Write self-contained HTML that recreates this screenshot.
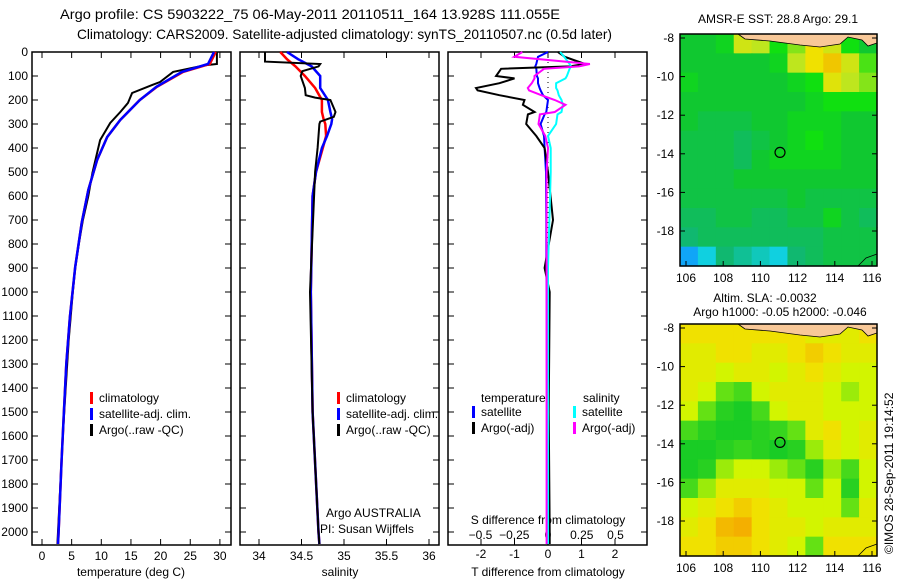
<!DOCTYPE html>
<html><head><meta charset="utf-8"><style>
body{margin:0;background:#fff;width:900px;height:580px;overflow:hidden}
svg text{font-family:"Liberation Sans",sans-serif;font-size:12px;fill:#000}
</style></head><body>
<svg id="c" width="900" height="580" xmlns="http://www.w3.org/2000/svg">
<text x="60" y="19" textLength="500" lengthAdjust="spacingAndGlyphs" style="font-size:14px">Argo profile: CS 5903222_75 06-May-2011 20110511_164 13.928S 111.055E</text>
<text x="77" y="39" textLength="535" lengthAdjust="spacingAndGlyphs" style="font-size:14px">Climatology: CARS2009. Satellite-adjusted climatology: synTS_20110507.nc (0.5d later)</text>
<text x="778" y="23" text-anchor="middle">AMSR-E SST: 28.8 Argo: 29.1</text>
<text x="765" y="302" text-anchor="middle">Altim. SLA: -0.0032</text>
<text x="780" y="316" text-anchor="middle">Argo h1000: -0.05 h2000: -0.046</text>
<text transform="translate(893,554) rotate(-90)">©IMOS 28-Sep-2011 19:14:52</text>
<g id="g"></g>
</svg>
<script>
// depth levels and profile values
const depT=[0,50,55,83,125,137,171,212,250,296,367,504,600,700,800,900,1000,1200,1400,1600,1800,2000,2050];
const tempArgo=[29.5,29.5,27.5,22.1,19.9,18.6,15.2,14.5,13.2,11.5,9.8,8.5,7.8,6.9,6.2,5.6,5.2,4.5,4.0,3.5,3.1,2.7,2.6];
const depC=[0,50,83,145,200,283,354,450,575,712,896,1104,1300,1500,1700,2000,2050];
const tempClim=[29.3,28.3,23.8,19.4,16.5,13.2,11,9.3,7.8,6.7,5.6,4.7,4.1,3.7,3.3,2.8,2.7];
const tempSat=[29.0,28.0,23.6,19.3,16.5,13.2,11,9.3,7.8,6.7,5.6,4.7,4.1,3.7,3.3,2.8,2.7];
const depS=[0,40,50,60,80,100,150,180,190,200,250,270,290,300,400,500,1000,1500,2000,2050];
const salArgo=[34.07,34.07,34.72,34.70,34.51,34.49,34.54,34.55,34.66,34.84,34.90,34.88,34.72,34.71,34.69,34.66,34.60,34.63,34.70,34.71];
const depS2=[0,30,60,100,150,200,250,280,300,350,400,500,600,800,1000,1500,2000,2050];
const salClim=[34.25,34.33,34.43,34.54,34.66,34.74,34.74,34.76,34.78,34.79,34.75,34.67,34.63,34.62,34.61,34.63,34.70,34.71];
const salSat=[34.33,34.46,34.62,34.72,34.72,34.81,34.84,34.86,34.85,34.80,34.74,34.67,34.63,34.62,34.61,34.63,34.70,34.71];
const depD=[0,20,50,60,70,100,110,130,150,160,180,200,220,250,260,300,350,400,500,700,900,1000,1500,2000,2050];
const dTsat=[0,-0.3,-0.35,-0.38,-0.35,-0.33,-0.3,-0.3,-0.25,-0.22,-0.15,0,-0.02,-0.05,-0.1,-0.22,-0.12,-0.1,-0.06,-0.05,-0.05,-0.04,-0.03,-0.03,-0.03];
const dTargo=[0.3,0.5,1.1,0.65,-1.4,-1.55,-1.0,-1.45,-2.15,-2.1,-1.45,-0.7,-0.75,-0.4,-0.6,-0.65,-0.35,-0.1,0.0,0.15,-0.1,0.05,0.02,0.05,0.05];
const dSsat=[0.09,0.12,0.16,0.17,0.16,0.14,0.13,0.06,0.06,0.07,0.08,0.1,0.11,0.1,0.07,0.06,0.0,0.02,0.02,0.01,0.0,0.0,0.0,0.0,0.0];
const dSargo=[-0.19,-0.25,0.31,0.23,-0.03,-0.1,-0.1,-0.12,-0.15,-0.14,-0.05,0.05,0.13,0.05,-0.06,-0.07,-0.02,0.0,-0.01,-0.01,-0.01,-0.01,-0.01,-0.01,-0.01];
const depthTicks=[0,100,200,300,400,500,600,700,800,900,1000,1100,1200,1300,1400,1500,1600,1700,1800,1900,2000];
const tTicks=[0,5,10,15,20,25,30];
const sTicks=[34,34.5,35,35.5,36];
const sTickLabels=["34","34.5","35","35.5","36"];
const dTTicks=[-2,-1,0,1,2];
const dSTicks=[-0.5,-0.25,0,0.25,0.5];
const lonTicks=[106,108,110,112,114,116];
const latTicks=[-8,-10,-12,-14,-16,-18];
// map grids (rows lat -8..-20, cols lon 106..117)
const sstGrid=[
[0.5,0.5,0.55,0.8,0.75,0.6,0.7,0.9,0.8,0.6,0.5],
[0.5,0.5,0.5,0.5,0.5,0.55,0.75,0.9,0.95,0.8,0.65],
[0.55,0.5,0.5,0.5,0.5,0.5,0.55,0.6,0.85,0.75,0.7],
[0.5,0.5,0.5,0.5,0.5,0.5,0.5,0.55,0.6,0.6,0.6],
[0.5,0.45,0.45,0.45,0.5,0.5,0.55,0.55,0.55,0.5,0.5],
[0.45,0.45,0.45,0.4,0.45,0.5,0.55,0.6,0.55,0.5,0.5],
[0.45,0.45,0.45,0.4,0.5,0.55,0.55,0.55,0.55,0.5,0.5],
[0.45,0.45,0.45,0.5,0.5,0.5,0.5,0.5,0.5,0.5,0.5],
[0.45,0.45,0.45,0.45,0.45,0.45,0.5,0.45,0.45,0.45,0.45],
[0.4,0.4,0.45,0.45,0.4,0.4,0.45,0.45,0.55,0.45,0.4],
[0.35,0.4,0.4,0.4,0.4,0.4,0.4,0.4,0.45,0.45,0.45],
[0.05,0.2,0.35,0.3,0.25,0.2,0.35,0.4,0.45,0.45,0.45]];
const slaGrid=[
[0.7,0.7,0.7,0.7,0.7,0.7,0.7,0.6,0.6,0.6,0.7],
[0.6,0.6,0.7,0.7,0.6,0.6,0.7,0.8,0.7,0.6,0.6],
[0.6,0.6,0.5,0.6,0.6,0.5,0.6,0.7,0.6,0.5,0.5],
[0.6,0.5,0.3,0.2,0.5,0.6,0.6,0.6,0.5,0.4,0.5],
[0.5,0.3,0.1,0.05,0.2,0.5,0.6,0.6,0.5,0.5,0.5],
[0.2,0.1,0.05,0.05,0.1,0.15,0.3,0.6,0.7,0.5,0.6],
[0.05,0.05,0.1,0.15,0.1,0.05,0.1,0.4,0.6,0.5,0.6],
[0.05,0.1,0.4,0.5,0.5,0.4,0.3,0.1,0.4,0.2,0.5],
[0.2,0.4,0.6,0.6,0.6,0.5,0.5,0.3,0.5,0.1,0.5],
[0.5,0.6,0.7,0.8,0.7,0.6,0.5,0.5,0.5,0.3,0.6],
[0.6,0.7,0.9,0.95,0.7,0.6,0.6,0.5,0.6,0.6,0.6],
[0.7,0.7,0.8,0.8,0.7,0.6,0.5,0.3,0.7,0.7,0.7]];

const NS="http://www.w3.org/2000/svg";
const G=document.getElementById('g');
function el(t,a,p){const e=document.createElementNS(NS,t);for(const k in a)e.setAttribute(k,a[k]);(p||G).appendChild(e);return e;}
function txt(x,y,s,anchor,p){const e=el('text',{x:x,y:y,'text-anchor':anchor||'start'},p);e.textContent=s;return e;}
const yD=d=>52+d*0.24;
const P1={x0:32,x1:231}, P2={x0:240,x1:439}, P3={x0:448,x1:647};
const xT=v=>42+v*5.93, xS=v=>259+(v-34)*85, xDT=v=>548+v*33.5, xDS=v=>548+v*135;

function frame(P,name){
  const r=el('rect',{x:P.x0,y:52,width:P.x1-P.x0,height:493,fill:'none',stroke:'#000','stroke-width':1.5});
  
  
  depthTicks.forEach(d=>{el('line',{x1:P.x0,x2:P.x0+6,y1:yD(d),y2:yD(d),stroke:'#000'});el('line',{x1:P.x1-6,x2:P.x1,y1:yD(d),y2:yD(d),stroke:'#000'});});
}
function xticks(P,vals,fx,labels,ly){
  vals.forEach((v,i)=>{const x=fx(v);el('line',{x1:x,x2:x,y1:52,y2:58,stroke:'#000'});el('line',{x1:x,x2:x,y1:539,y2:545,stroke:'#000'});
    if(labels){const t=txt(x,ly,labels[i],'middle');}});
}
function line(xs,ds,fx,col,name,w){
  const pts=xs.map((v,i)=>fx(v).toFixed(1)+','+yD(ds[i]).toFixed(1)).join(' ');
  const p=el('polyline',{points:pts,fill:'none',stroke:col,'stroke-width':w||2.5});
  
  
}
function legend(x,y,col,label){
  const r=el('rect',{x:x,y:y-10,width:3,height:12,fill:col});
  
  
  const t=txt(x+9,y,label);
  
  
}
// panel 1
frame(P1,'temperature-panel');
depthTicks.forEach(d=>{const t=txt(28,yD(d)+4,String(d),'end');});
xticks(P1,tTicks,xT,tTicks.map(String),560);
{const t=txt(131,576,'temperature (deg C)','middle');}
line(tempArgo,depT,xT,'#000','temp-argo-line',2);
line(tempClim,depC,xT,'#f00','temp-climatology-line');
line(tempSat,depC,xT,'#00f','temp-satellite-line');
legend(90,402,'#f00','climatology');legend(90,418,'#00f','satellite-adj. clim.');legend(90,434,'#000','Argo(..raw -QC)');
// panel 2
frame(P2,'salinity-panel');
xticks(P2,sTicks,xS,sTickLabels,560);
{const t=txt(340,576,'salinity','middle');}
line(salClim,depS2,xS,'#f00','sal-climatology-line');
line(salSat,depS2,xS,'#00f','sal-satellite-line');
line(salArgo,depS,xS,'#000','sal-argo-line',2);
legend(337,402,'#f00','climatology');legend(337,418,'#00f','satellite-adj. clim.');legend(337,434,'#000','Argo(..raw -QC)');
{const t=txt(326,517,'Argo AUSTRALIA');
 const u=txt(320,533,'PI: Susan Wijffels');}
// panel 3
frame(P3,'difference-panel');
xticks(P3,dTTicks,xDT,dTTicks.map(String),558);
dSTicks.forEach(v=>{const t=txt(xDS(v),539,String(v).replace('-','−'),'middle');});
{const t=txt(548,524,'S difference from climatology','middle');
 const u=txt(548,576,'T difference from climatology','middle');}
el('line',{x1:548,x2:548,y1:52,y2:545,stroke:'#000','stroke-dasharray':'1,4'});
line(dTsat,depD,xDT,'#00f','dT-satellite-line',2);
line(dTargo,depD,xDT,'#000','dT-argo-line',2);
line(dSsat,depD,xDS,'#0ff','dS-satellite-line',2);
line(dSargo,depD,xDS,'#f0f','dS-argo-line',2);
{const t=txt(481,402,'temperature');
 const u=txt(583,402,'salinity');}
legend(472,416,'#00f','satellite');legend(472,432,'#000','Argo(-adj)');
legend(573,416,'#0ff','satellite');legend(573,432,'#f0f','Argo(-adj)');

// maps
function lerp(a,b,t){return Math.round(a+(b-a)*t);}
function cmap(stops,v){for(let i=1;i<stops.length;i++){if(v<=stops[i][0]){const s=stops[i-1],e=stops[i],t=(v-s[0])/(e[0]-s[0]);return 'rgb('+lerp(s[1],e[1],t)+','+lerp(s[2],e[2],t)+','+lerp(s[3],e[3],t)+')';}}const l=stops[stops.length-1];return 'rgb('+l[1]+','+l[2]+','+l[3]+')';}
const sstStops=[[0,16,150,255],[0.2,16,208,224],[0.35,16,184,112],[0.5,16,200,48],[0.6,16,224,16],[0.75,190,230,30],[0.9,240,225,0],[1,240,170,0]];
const slaStops=[[0,10,200,40],[0.3,100,225,20],[0.5,210,245,0],[0.7,240,225,0],[1,245,165,0]];
function map(y0,y1,grid,stops,name){
  const x0=680,x1=877,lon=v=>686+(v-106)*18.6,lat=v=>y0+4+(-8-v)*19.3;
  const g=el('g',{});
  
  
  const cw=(x1-x0)/grid[0].length,ch=(y1-y0)/grid.length;
  grid.forEach((row,r)=>row.forEach((v,c)=>{el('rect',{x:x0+c*cw,y:y0+r*ch,width:cw+0.6,height:ch+0.6,fill:cmap(stops,v)},g);}));
  el('path',{d:`M738,${y0} L745,${y0+5} L770,${y0+7} L800,${y0+11} L820,${y0+13} L840,${y0+10} L848,${y0+3} L862,${y0+6} L868,${y0+12} L877,${y0+9} L877,${y0} Z`,fill:'#f8c898',stroke:'#000','stroke-width':0.8},g);
  el('path',{d:`M858,${y1} L866,${y1-8} L877,${y1-12}`,fill:'none',stroke:'#000','stroke-width':0.8},g);
  el('rect',{x:x0,y:y0,width:x1-x0,height:y1-y0,fill:'none',stroke:'#000','stroke-width':1.5},g);
  lonTicks.forEach(v=>{const x=lon(v);el('line',{x1:x,x2:x,y1:y1-5,y2:y1,stroke:'#000'},g);txt(x,y1+16,String(v),'middle',g);});
  latTicks.forEach(v=>{const y=lat(v);el('line',{x1:x0,x2:x0+5,y1:y,y2:y,stroke:'#000'},g);el('line',{x1:x1-5,x2:x1,y1:y,y2:y,stroke:'#000'},g);txt(674,y+4,String(v),'end',g);});
  const m=el('circle',{cx:lon(111.055),cy:lat(-13.928),r:5,fill:'none',stroke:'#000','stroke-width':1.2},g);
  
  
}
map(34,266,sstGrid,sstStops,'sst-map');
map(324,556,slaGrid,slaStops,'sla-map');
</script>
</body></html>
